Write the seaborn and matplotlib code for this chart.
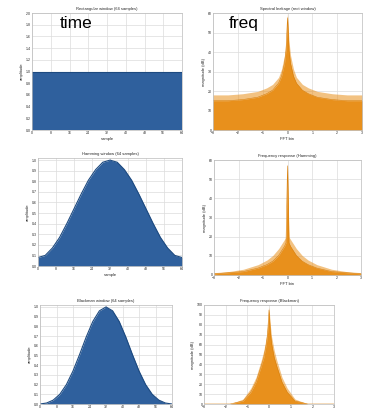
import matplotlib
matplotlib.use("Agg")
import matplotlib.pyplot as plt
import numpy as np
import pandas as pd
import seaborn as sns

# Window shapes (time domain)
n_idx = [0, 3.2, 6.4, 9.6, 12.8, 16, 19.2, 22.4, 25.6, 28.8, 32,
         35.2, 38.4, 41.6, 44.8, 48, 51.2, 54.4, 57.6, 60.8, 64]
rect_win = [1.0] * 21
hamming_win = [0.08, 0.10, 0.17, 0.27, 0.40, 0.54, 0.68, 0.81, 0.91, 0.98, 1.0,
               0.98, 0.91, 0.81, 0.68, 0.54, 0.40, 0.27, 0.17, 0.10, 0.08]
blackman_win = [0.0, 0.01, 0.04, 0.10, 0.20, 0.34, 0.51, 0.69, 0.85, 0.96, 1.0,
                0.96, 0.85, 0.69, 0.51, 0.34, 0.20, 0.10, 0.04, 0.01, 0.0]

# Frequency responses (FFT bins), upper / lower envelopes in dB
freq = [-3.0, -2.4, -1.8, -1.2, -0.84, -0.6, -0.36, -0.24, -0.12, -0.06, 0.0,
        0.06, 0.12, 0.24, 0.36, 0.6, 0.84, 1.2, 1.8, 2.4, 3.0]
rect_hi = [18, 18, 18.6, 19.8, 21.6, 23.4, 27, 31.2, 38.4, 45.6, 60,
           45.6, 38.4, 31.2, 27, 23.4, 21.6, 19.8, 18.6, 18, 18]
rect_lo = [15, 15, 15.6, 16.8, 18.6, 20.4, 24, 27.6, 34.2, 40.8, 57.6,
           40.8, 34.2, 27.6, 24, 20.4, 18.6, 16.8, 15.6, 15, 15]
hamm_hi = [1.2, 1.8, 3, 5.4, 7.8, 10.2, 13.8, 16.2, 18.6, 19.8, 58.2,
           19.8, 18.6, 16.2, 13.8, 10.2, 7.8, 5.4, 3, 1.8, 1.2]
hamm_lo = [0.6, 1.2, 1.8, 3.6, 5.4, 7.2, 10.2, 12.6, 15, 16.8, 57,
           16.8, 15, 12.6, 10.2, 7.2, 5.4, 3.6, 1.8, 1.2, 0.6]
black_hi = [0, 0, 0, 5, 16, 27, 44, 54, 68, 80, 98,
            80, 68, 54, 44, 27, 16, 5, 0, 0, 0]
black_lo = [0, 0, 0, 3, 12, 22, 38, 47, 61, 73, 95,
            73, 61, 47, 38, 22, 12, 3, 0, 0, 0]

titles = ["Rectangular window (64 samples)", "Spectral leakage (rect window)",
          "Hamming window (64 samples)", "Frequency response (Hamming)",
          "Blackman window (64 samples)", "Frequency response (Blackman)"]

blue = "#2f609d"
orange = "#e8901c"

sns.set_style("whitegrid", {"grid.color": "#dcdcdc", "axes.edgecolor": "#bbbbbb"})
plt.rcParams["font.family"] = ["Liberation Sans", "DejaVu Sans"]

W, H = 372, 411
fig = plt.figure(figsize=(W / 100, H / 100), dpi=100)

def box(l, r, t, b):
    return [l / W, 1 - b / H, (r - l) / W, (b - t) / H]

boxes = [box(32, 182, 13, 130), box(213, 362, 13, 130),
         box(38, 182, 158, 266), box(214, 361, 160, 275),
         box(40, 172, 305, 404), box(204, 334, 305, 404)]

def style(ax, title, xlabel, ylabel):
    ax.set_title(title, fontsize=3, pad=2)
    ax.set_xlabel(xlabel, fontsize=3, labelpad=1)
    ax.set_ylabel(ylabel, fontsize=3, labelpad=1)
    ax.tick_params(labelsize=2.5, pad=1, length=0)
    for s in ax.spines.values():
        s.set_linewidth(0.5)
    ax.grid(linewidth=0.5)

# time-domain windows
for i, win, top, step in [(0, rect_win, 2.0, 0.2), (2, hamming_win, 1.02, 0.1),
                          (4, blackman_win, 1.02, 0.1)]:
    ax = fig.add_axes(boxes[i])
    df = pd.DataFrame({"n": n_idx, "w": win})
    sns.lineplot(data=df, x="n", y="w", ax=ax, color="#1d4a80", linewidth=0.8)
    ax.fill_between(df["n"], 0, df["w"], color=blue, linewidth=0)
    ax.set_xlim(0, 64)
    ax.set_ylim(0, top)
    ax.set_xticks(np.arange(0, 65, 8))
    ax.set_yticks(np.arange(0, top + 0.001, step))
    # bottom row runs off the figure edge, so no x label there
    style(ax, titles[i], "sample" if i < 4 else "", "amplitude")

# frequency responses
for i, hi, lo, top, step in [(1, rect_hi, rect_lo, 60, 10), (3, hamm_hi, hamm_lo, 60, 10),
                             (5, black_hi, black_lo, 100, 10)]:
    ax = fig.add_axes(boxes[i])
    df = pd.DataFrame({"f": freq, "hi": hi, "lo": lo})
    ax.fill_between(df["f"], 0, df["hi"], color=orange, alpha=0.55, linewidth=0)
    ax.fill_between(df["f"], 0, df["lo"], color=orange, linewidth=0)
    sns.lineplot(data=df, x="f", y="lo", ax=ax, color="#d9800c", linewidth=0.4)
    ax.set_xlim(-3, 3)
    ax.set_ylim(0, top)
    ax.set_xticks(np.arange(-3, 4, 1))
    ax.set_yticks(np.arange(0, top + 1, step))
    style(ax, titles[i], "FFT bin" if i < 5 else "", "magnitude (dB)")

fig.text(60 / W, 1 - 28 / H, "time", fontsize=12.5, color="black")
fig.text(229 / W, 1 - 28 / H, "freq", fontsize=12.5, color="black")

fig.savefig("out.png", dpi=100)
